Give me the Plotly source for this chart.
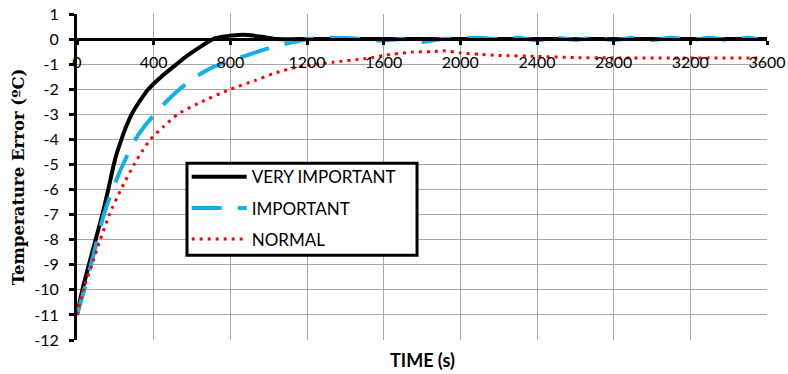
import plotly.graph_objects as go

# ---- data ----
t_vi = [0, 28, 62, 97, 132, 163, 192, 210, 232, 256, 285, 325, 372, 440, 520, 560, 606,
        655, 710, 760, 810, 867, 920, 980, 1042, 1150, 1600, 2000, 2400, 2800, 3200, 3600]
y_vi = [-11, -10, -9, -8, -7, -6, -5, -4.5, -4, -3.5, -3, -2.5, -2, -1.5, -1, -0.75, -0.5,
        -0.25, 0, 0.09, 0.14, 0.17, 0.14, 0.07, 0.0, 0, 0, 0, 0, 0, 0, 0]

t_imp = [0, 38, 73, 106, 140, 185, 240, 305, 350, 405, 465, 535, 620, 715, 800, 886, 963,
         1050, 1128, 1205,
         1300, 1400, 1500, 1600, 1700, 1800, 1900, 2000, 2100, 2200, 2300, 2400, 2500,
         2600, 2700, 2800, 2900, 3000, 3100, 3200, 3300, 3400, 3500, 3550]
y_imp = [-11, -10, -9, -8, -7, -6, -5, -4, -3.5, -3, -2.5, -2, -1.5, -1.1, -0.85, -0.65, -0.45,
         -0.25, -0.12, 0.0,
         0.05, 0.04, -0.01, -0.06, 0.0, -0.12, 0.0, 0.04, 0.05, 0.0, 0.05, -0.05, 0.05,
         -0.03, 0.05, -0.04, 0.05, -0.04, 0.05, -0.04, 0.05, -0.04, 0.05, 0.0]

t_norm = [0, 33, 78, 121, 169, 229, 298, 338, 383, 450, 525, 650, 800, 930, 1030, 1160, 1337,
          1500, 1650, 1750, 1850, 1920, 2000, 2100, 2200, 2400, 2600, 2800, 3200, 3550]
y_norm = [-11, -10, -9, -8, -7, -6, -5, -4.5, -4, -3.5, -3, -2.5, -2, -1.65, -1.36, -1.1, -0.92,
          -0.78, -0.6, -0.52, -0.5, -0.47, -0.55, -0.61, -0.65, -0.69, -0.74, -0.75, -0.75, -0.75]

x_ticks = [0, 400, 800, 1200, 1600, 2000, 2400, 2800, 3200, 3600]
y_ticks = list(range(-12, 2))

FONT = "Lato"

fig = go.Figure()
fig.add_trace(go.Scatter(x=t_vi, y=y_vi, mode="lines", name="VERY IMPORTANT",
                         legendgroup="a",
                         line=dict(color="black", width=4, shape="spline", smoothing=0.6)))
fig.add_trace(go.Scatter(x=t_imp, y=y_imp, mode="lines", name="IMPORTANT",
                         legendgroup="b",
                         line=dict(color="#10b0e8", width=4, dash="30px,16px",
                                   shape="spline", smoothing=0.6)))
fig.add_trace(go.Scatter(x=t_norm, y=y_norm, mode="lines", name="NORMAL",
                         legendgroup="c",
                         line=dict(color="#ff0000", width=3, dash="3px,5px",
                                   shape="spline", smoothing=0.6)))

fig.update_layout(
    width=788, height=374,
    margin=dict(l=77, r=21, t=13.5, b=34, autoexpand=False),
    paper_bgcolor="white", plot_bgcolor="white",
    font=dict(family=FONT, size=16, color="black"),
    showlegend=True,
    legend=dict(x=0.159, y=0.5544, xanchor="left", yanchor="top",
                bgcolor="rgba(0,0,0,0)", borderwidth=0,
                font=dict(family=FONT, size=17, color="black"),
                tracegroupgap=6, itemwidth=55),
    # legend frame
    shapes=[dict(type="rect", xref="paper", yref="paper",
                 x0=0.1594, x1=0.4928, y0=0.2603, y1=0.5421,
                 fillcolor="white", line=dict(color="black", width=3), layer="above")],
    xaxis=dict(range=[0, 3600], tickvals=x_ticks, ticktext=[str(v) for v in x_ticks],
               anchor="free", position=12 / 13, automargin=False,
               showline=True, linecolor="black", linewidth=3,
               ticks="outside", ticklen=4, tickwidth=3, tickcolor="black",
               ticklabelstandoff=4,
               showgrid=True, gridcolor="#a6a6a6", gridwidth=1.3,
               zeroline=False, tickfont=dict(family=FONT, size=16)),
    yaxis=dict(range=[-12, 1], tickvals=y_ticks, ticktext=[str(v) for v in y_ticks],
               automargin=False,
               showline=True, linecolor="black", linewidth=3,
               ticks="outside", ticklen=5, tickwidth=3, tickcolor="black",
               ticklabelstandoff=7,
               showgrid=True, gridcolor="#a6a6a6", gridwidth=1.3,
               zeroline=False, tickfont=dict(family=FONT, size=16),
               title=dict(text="Temperature Error (ºC)", standoff=6,
                          font=dict(family="DejaVu Serif", size=16.5, color="black",
                                    weight="bold"))),
    annotations=[dict(text="<b>TIME (s)</b>", xref="paper", yref="paper",
                      x=0.5, y=0, yshift=-20, xanchor="center", yanchor="middle",
                      showarrow=False, font=dict(family=FONT, size=18, color="black"))],
)

fig.write_html("out.html")
